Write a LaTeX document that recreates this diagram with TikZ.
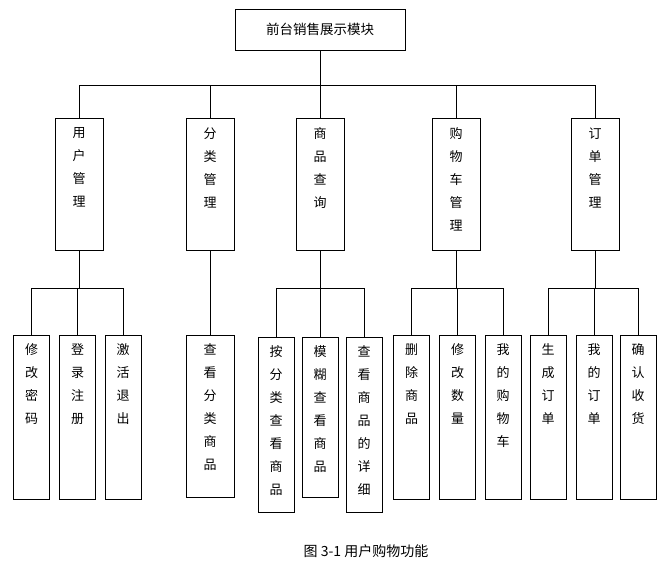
\documentclass[tikz,border=0pt]{standalone}
\usepackage{fontspec}
\newfontfamily\cjk{Noto Sans CJK SC}
\tikzset{
  box/.style={draw,line width=0.8pt,inner sep=0pt},
  vtext/.style={anchor=north,inner sep=0pt,align=center,font=\cjk\fontsize{13}{23}\selectfont},
  conn/.style={line width=0.8pt}
}
\begin{document}
\begin{tikzpicture}[x=1pt,y=-1pt]
\useasboundingbox (0,0) rectangle (670,573);
\node[box,minimum width=170,minimum height=41,font=\cjk\fontsize{13.5}{15}\selectfont] (top) at (320,29.5) {前台销售展示模块};
% level 2
\foreach \n/\x/\t in {u/79/用\\户\\管\\理, f/210/分\\类\\管\\理, s/320/商\\品\\查\\询, g/456/购\\物\\车\\管\\理, d/595/订\\单\\管\\理}{
  \node[box,minimum width=48,minimum height=132] (\n) at (\x,184) {};
  \node[vtext] (\n t) at ([yshift=-10]\n.north) {\t};
}
\coordinate (h1) at (320,85);
\draw[conn] (top.south) -- (h1);
\foreach \n in {u,f,s,g,d} \draw[conn] (h1) -| (\n.north);
% level 3
\foreach \n/\x/\y/\w/\h/\t in {
 u1/31.5/417/36/164/修\\改\\密\\码, u2/77.5/417/36/164/登\\录\\注\\册, u3/123/417/36/164/激\\活\\退\\出,
 f1/210/416/48/162/查\\看\\分\\类\\商\\品,
 s1/276/424.5/36/175/按\\分\\类\\查\\看\\商\\品, s2/320/417/36/160/模\\糊\\查\\看\\商\\品, s3/364/424.5/36/175/查\\看\\商\\品\\的\\详\\细,
 g1/411.5/417/36/164/删\\除\\商\\品, g2/457.5/417/36/164/修\\改\\数\\量, g3/503/417/36/164/我\\的\\购\\物\\车,
 d1/548/417/36/164/生\\成\\订\\单, d2/594/417/36/164/我\\的\\订\\单, d3/638/417/36/164/确\\认\\收\\货}{
  \node[box,minimum width=\w,minimum height=\h] (\n) at (\x,\y) {};
  \node[vtext] (\n t) at ([yshift=-9]\n.north) {\t};
}
\foreach \p/\x in {u/79,s/320,g/456,d/595}{
  \coordinate (\p h) at (\x,288);
  \draw[conn] (\p.south) -- (\p h);
  \foreach \i in {1,2,3} \draw[conn] (\p h) -| (\p\i.north);
}
\draw[conn] (f.south) -- (f1.north);
\node[font=\cjk\fontsize{14}{16}\selectfont] (cap) at (366,551) {图 3-1 用户购物功能};
\end{tikzpicture}
\end{document}
